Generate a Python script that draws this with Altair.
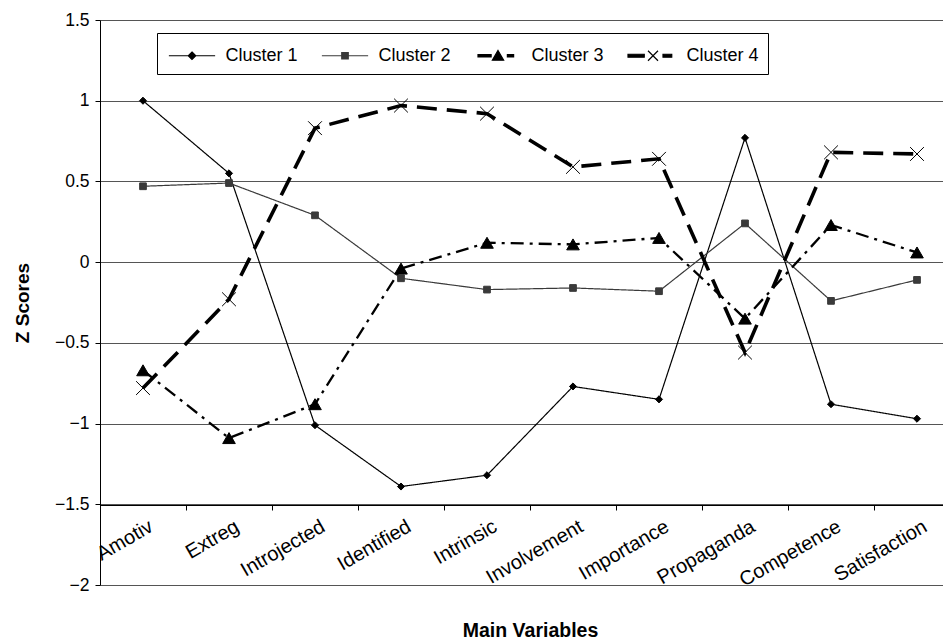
import altair as alt
import pandas as pd

# ---- data ----
variables = ["Amotiv", "Extreg", "Introjected", "Identified", "Intrinsic",
             "Involvement", "Importance", "Propaganda", "Competence", "Satisfaction"]
clusters = ["Cluster 1", "Cluster 2", "Cluster 3", "Cluster 4"]
cluster1 = [1.00, 0.55, -1.01, -1.39, -1.32, -0.77, -0.85, 0.77, -0.88, -0.97]
cluster2 = [0.47, 0.49, 0.29, -0.10, -0.17, -0.16, -0.18, 0.24, -0.24, -0.11]
cluster3 = [-0.67, -1.09, -0.88, -0.04, 0.12, 0.11, 0.15, -0.35, 0.23, 0.06]
cluster4 = [-0.78, -0.23, 0.83, 0.97, 0.92, 0.59, 0.64, -0.56, 0.68, 0.67]
y_ticks = [-2, -1.5, -1, -0.5, 0, 0.5, 1, 1.5]

series = [cluster1, cluster2, cluster3, cluster4]
rows = []
for name, vals in zip(clusters, series):
    for i, (v, z) in enumerate(zip(variables, vals)):
        rows.append({"Variable": v, "Cluster": name, "Z": z, "idx": i})
df = pd.DataFrame(rows)

# ---- styles ----
FONT = "Liberation Sans"
ink = ["#000000", "#3a3a3a", "#000000", "#000000"]
dashes = [[1, 0], [1, 0], [13, 6, 3, 6], [20, 10]]
widths = [1.2, 1.2, 2.3, 3.6]
marker_shapes = ["diamond", "square", "triangle-up", "M-1,-1L1,1M-1,1L1,-1"]
marker_sizes = [50, 45, 160, 190]
legend_paths = [
    "M-1.85,0H1.85M0,-0.3L0.3,0L0,0.3L-0.3,0Z",
    "M-1.85,0H1.85M-0.26,-0.26H0.26V0.26H-0.26Z",
    "M-1.6,-0.1H-0.55V0.1H-1.6ZM0,-0.42L0.45,0.36H-0.45ZM0.75,-0.1H1.25V0.1H0.75Z",
    "M-2,-0.12H-0.7V0.12H-2ZM-0.4,-0.4L0.4,0.4M-0.4,0.4L0.4,-0.4M0.8,-0.12H1.5V0.12H0.8Z",
]

x_enc = alt.X(
    "Variable:N",
    sort=variables,
    bandPosition=0.5,
    scale=alt.Scale(type="band", domain=variables, range=[0, 860], paddingInner=0, paddingOuter=0),
    axis=alt.Axis(
        title="Main Variables", offset=-80, tickBand="extent", tickSize=5,
        tickColor="black", domainColor="black", labelAngle=-30, labelFontSize=20,
        labelFont=FONT, labelColor="black", labelOverlap=False, labelAlign="right",
        labelBaseline="top", labelPadding=6, labelOffset=3, grid=False,
        titleFont=FONT, titleFontSize=19.5, titleFontWeight="bold", titleColor="black",
        titleY=131, titleX=430, titleBaseline="alphabetic",
    ),
)
y_enc = alt.Y(
    "Z:Q",
    scale=alt.Scale(domain=[-2, 1.5], nice=False, zero=False),
    axis=alt.Axis(
        values=y_ticks, format="~g", grid=True, gridColor="#555555", gridWidth=1,
        domainColor="black", tickColor="black", tickSize=5, labelFontSize=17.5,
        labelFont=FONT, labelColor="black", labelPadding=6,
        title="Z Scores", titleFont=FONT, titleFontSize=19, titleFontWeight="bold",
        titleColor="black", titlePadding=22,
    ),
)

base = alt.Chart(df)

lines = base.mark_line().encode(
    x=x_enc, y=y_enc,
    order=alt.Order("idx:Q"),
    stroke=alt.Stroke("Cluster:N", scale=alt.Scale(domain=clusters, range=ink), legend=None),
    strokeDash=alt.StrokeDash("Cluster:N", scale=alt.Scale(domain=clusters, range=dashes), legend=None),
    strokeWidth=alt.StrokeWidth("Cluster:N", scale=alt.Scale(type="ordinal", domain=clusters, range=widths), legend=None),
)

points = base.mark_point(filled=True, strokeWidth=1, opacity=1).encode(
    x=x_enc, y=y_enc,
    fill=alt.Fill("Cluster:N", scale=alt.Scale(domain=clusters, range=ink), legend=None),
    stroke=alt.Stroke("Cluster:N", scale=alt.Scale(domain=clusters, range=ink), legend=None),
    shape=alt.Shape("Cluster:N", scale=alt.Scale(domain=clusters, range=marker_shapes), legend=None),
    size=alt.Size("Cluster:N", scale=alt.Scale(type="ordinal", domain=clusters, range=marker_sizes), legend=None),
)

leg = alt.Legend(
    title=None, orient="none", legendX=57, legendY=13, direction="horizontal", columns=4,
    symbolSize=625, symbolOffset=12.5, labelOffset=20, symbolStrokeWidth=1.2, symbolOpacity=1,
    labelFontSize=18, labelFont=FONT, labelColor="black", strokeColor="black",
    fillColor="white", padding=9, columnPadding=21, labelLimit=300,
)

legend_layer = base.mark_point(filled=True, size=625, opacity=0).encode(
    x=x_enc, y=y_enc,
    fill=alt.Fill("Cluster:N", scale=alt.Scale(domain=clusters, range=ink), legend=leg),
    stroke=alt.Stroke("Cluster:N", scale=alt.Scale(domain=clusters, range=ink), legend=leg),
    shape=alt.Shape("Cluster:N", scale=alt.Scale(domain=clusters, range=legend_paths), legend=leg),
)

chart = (
    alt.layer(lines, points, legend_layer)
    .resolve_scale(fill="independent", stroke="independent", shape="independent",
                   size="independent", strokeDash="independent", strokeWidth="independent")
    .properties(
        width=843, height=565,
        padding={"left": 92, "top": 12, "right": 0, "bottom": 56},
        autosize=alt.AutoSizeParams(type="none"),
        background="white",
    )
    .configure_view(stroke=None)
    .configure(font=FONT)
)

chart.save("out.html", embed_options={"renderer": "svg", "actions": False})
